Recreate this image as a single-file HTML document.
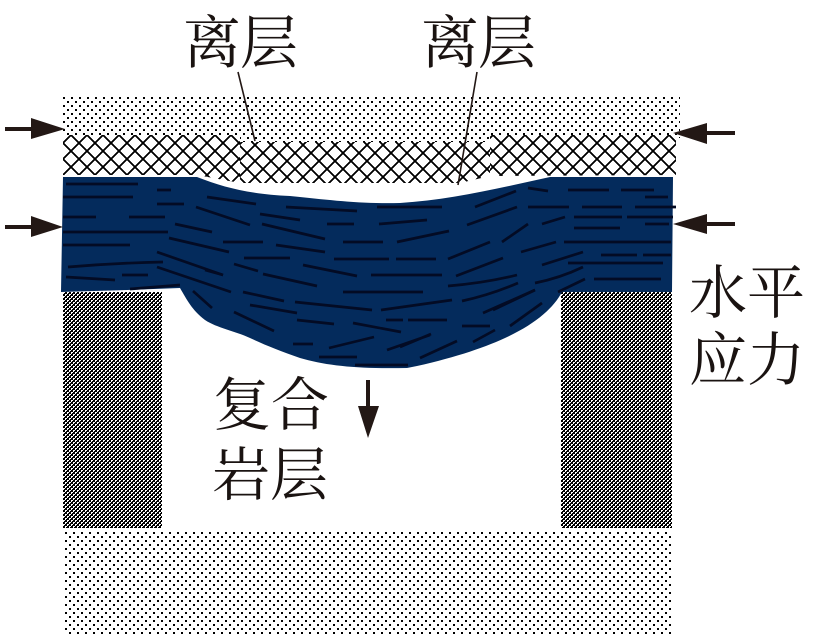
<!DOCTYPE html>
<html><head><meta charset="utf-8"><style>
html,body{margin:0;padding:0;background:#fff;width:813px;height:642px;overflow:hidden}
svg{display:block}
text{font-family:"Liberation Serif","Noto Serif CJK SC",serif;font-size:58px;fill:#1a1311}
</style></head><body>
<svg width="813" height="642" viewBox="0 0 813 642" xmlns="http://www.w3.org/2000/svg">
<defs>
<pattern id="dots" x="63" y="96" width="8" height="8" patternUnits="userSpaceOnUse">
<rect x="0" y="1" width="2" height="2" fill="#000"/><rect x="4" y="5" width="2" height="2" fill="#000"/>
</pattern>
<pattern id="dots2" x="64" y="530" width="8" height="8" patternUnits="userSpaceOnUse">
<rect x="1" y="2" width="2" height="2" fill="#000"/><rect x="5" y="6" width="2" height="2" fill="#000"/>
</pattern>
<pattern id="hatchL" x="183" y="135" width="16" height="16" patternUnits="userSpaceOnUse">
<path d="M0 0L16 16M16 0L0 16" stroke="#000" stroke-width="1.5" fill="none" shape-rendering="crispEdges"/>
</pattern>
<pattern id="hatchM" x="287" y="145" width="16" height="16" patternUnits="userSpaceOnUse">
<path d="M0 0L16 16M16 0L0 16" stroke="#000" stroke-width="1.5" fill="none" shape-rendering="crispEdges"/>
</pattern>
<pattern id="hatchR" x="557" y="135" width="16" height="16" patternUnits="userSpaceOnUse">
<path d="M0 0L16 16M16 0L0 16" stroke="#000" stroke-width="1.5" fill="none" shape-rendering="crispEdges"/>
</pattern>
<pattern id="check" x="63" y="292" width="4" height="4" patternUnits="userSpaceOnUse">
<rect width="4" height="4" fill="#000"/>
<rect x="0" y="0" width="2" height="1" fill="#fff"/><rect x="0" y="1" width="1" height="1" fill="#fff"/>
<rect x="2" y="2" width="2" height="1" fill="#fff"/><rect x="2" y="3" width="1" height="1" fill="#fff"/>
</pattern>
</defs>

<rect x="63" y="96" width="617" height="42" fill="url(#dots)"/>
<rect x="64" y="530" width="609" height="105" fill="url(#dots2)"/>
<rect x="240" y="135" width="250" height="10" fill="#fff"/>
<rect x="240" y="96" width="250" height="46" fill="url(#dots)"/>
<polygon points="63,135 240,135 240,183 197,175 63,175" fill="#fff"/>
<polygon points="63,135 240,135 240,183 197,175 63,175" fill="url(#hatchL)"/>
<polygon points="240,142 490,142 490,176 460,183 240,183" fill="url(#hatchM)"/>
<polygon points="490,135 676,135 676,175 490,176" fill="#fff"/>
<polygon points="490,135 676,135 676,175 490,176" fill="url(#hatchR)"/>
<rect x="63" y="292" width="99" height="236" fill="url(#check)"/>
<rect x="561" y="292" width="111" height="236" fill="url(#check)"/>

<path fill="#042b5c" d="M63 177L197 177C225 188 250 194 290 196C330 200 360 204 400 203C450 200 500 188 550 177L673 177L672 292L562 292C548 318 510 345 417 366L407 368C360 369 327 366 300 358C280 351 265 345 250 338C235 331 217 328 205 320C192 310 187 300 180 288L127 290L61 292Z"/>

<g stroke="#030b24" stroke-width="2.7" fill="none">
<path d="M66 184H138M63 197H133M157 190H171M157 204H184M207 197L256 204M196 207L250 225M63 217H96M129 217H165M175 224L212 232M63 232H168M169 238L229 252M223 242H263M63 245H130M157 252L223 275M244 258H290M68 267Q115 263 163 262M234 264L258 271M66 277L115 280M122 275H148M157 267L231 292M130 289L180 285M243 292L284 301M193 291L212 308M250 305L297 313M260 214L300 220M262 224L325 239"/>
<path d="M263 274L317 286M286 207L357 211M377 207H442M327 224H354M379 224L427 220M475 207L516 191M467 225L517 207M528 188L548 191M528 207H569M343 242H383M397 242L449 231M502 242L528 224M276 245L325 252M448 259L490 242M521 252L556 242M334 259H389M396 259H436M303 265L357 276M371 275H442M456 276L503 258M448 286Q485 283 517 275M462 301Q490 295 518 283M343 292H423M295 302L372 310M381 310L452 300M493 310L535 290"/>
<path d="M568 190H609M621 190H654M645 197H668M582 207H622M635 207H676M542 224L565 217M574 217H622M627 217H673M645 224H669M574 228H620M564 242H671M542 265L583 252M601 255H637M643 255H671M568 263H663M535 283Q560 278 583 267M594 279H661M558 292L585 279"/>
<path d="M483 313L535 290M510 326L542 303M408 320H447M462 326H490M473 342L495 330M400 347L431 334M420 358L457 341M297 320L334 324M353 323L401 332M386 320H403M234 312L274 331M293 344H313M329 348L374 337M387 350L430 335M319 357H357M355 365H408M205 270L223 275"/>
</g>

<g stroke="#231815" fill="none">
<path d="M238 72L255 141M477 72L458 185" stroke-width="1.6"/>
<path d="M5 129H35M5 227H35M735 133H705M735 224H705M368 380V410" stroke-width="4"/>
</g>
<g fill="#231815">
<polygon points="31,118 65,129 31,139"/>
<polygon points="31,216 63,227 31,237"/>
<polygon points="707,123 673,133 707,144"/>
<polygon points="707,214 673,224 707,234"/>
<polygon points="358,406 379,406 368,438"/>
</g>

<text x="183" y="63" textLength="115">离层</text>
<text x="421" y="63" textLength="115">离层</text>
<text x="689" y="313" textLength="116">水平</text>
<text x="689" y="380" textLength="116">应力</text>
<text x="213" y="425" textLength="116">复合</text>
<text x="212" y="495" textLength="116">岩层</text>
</svg>
</body></html>
